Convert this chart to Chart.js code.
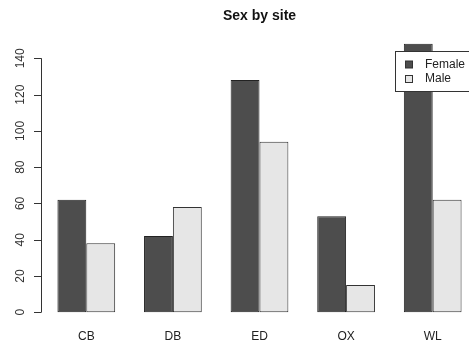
<!DOCTYPE html>
<html>
<head>
<meta charset="utf-8">
<title>Sex by site</title>
<script src="https://cdn.jsdelivr.net/npm/chart.js@4/dist/chart.umd.min.js"></script>
<style>
  html, body { margin: 0; padding: 0; background: #fff; overflow: hidden; }
  #wrap { width: 490px; height: 347px; }
</style>
</head>
<body>
<div id="wrap"><canvas id="c" width="490" height="347"></canvas></div>
<script>
// Counts by site and sex
const sites = ['CB', 'DB', 'ED', 'OX', 'WL'];
const female = [62, 42, 128, 53, 148];
const male = [38, 58, 94, 15, 62];
const yTicks = [0, 20, 40, 60, 80, 100, 120, 140];
const seriesNames = ['Female', 'Male'];
const seriesColors = ['#4d4d4d', '#e6e6e6'];

const FONT = '"Liberation Sans", Arial, Helvetica, sans-serif';
const yMax = Math.max(...female, ...male);
const yPad = yMax * 0.04;

// y axis drawn base-graphics style: line spanning only the tick range,
// outward ticks and labels running parallel to the axis
const baseAxis = {
  id: 'baseAxis',
  afterDraw(chart) {
    const ctx = chart.ctx;
    const y = chart.scales.y;
    const area = chart.chartArea;
    const unit = (area.right - area.left) / 15;
    const ax = area.left - 0.06 * unit;
    ctx.save();
    ctx.strokeStyle = '#333';
    ctx.lineWidth = 1;
    ctx.beginPath();
    ctx.moveTo(Math.round(ax) + 0.5, y.getPixelForValue(yTicks[0]));
    ctx.lineTo(Math.round(ax) + 0.5, y.getPixelForValue(yTicks[yTicks.length - 1]));
    yTicks.forEach(v => {
      const py = Math.round(y.getPixelForValue(v)) + 0.5;
      ctx.moveTo(Math.round(ax) + 0.5, py);
      ctx.lineTo(Math.round(ax) - 7, py);
    });
    ctx.stroke();
    ctx.fillStyle = '#333';
    ctx.font = '12px ' + FONT;
    ctx.textAlign = 'center';
    ctx.textBaseline = 'middle';
    yTicks.forEach(v => {
      ctx.save();
      ctx.translate(21, y.getPixelForValue(v));
      ctx.rotate(-Math.PI / 2);
      ctx.fillText(String(v), 0, 0);
      ctx.restore();
    });
    ctx.restore();
  }
};

// boxed legend in the top-right corner, drawn over the bars
const boxLegend = {
  id: 'boxLegend',
  afterDraw(chart) {
    const ctx = chart.ctx;
    ctx.save();
    const bx = 395.5, by = 51.5, bw = 84, bh = 40;
    ctx.fillStyle = '#fff';
    ctx.fillRect(bx, by, bw, bh);
    ctx.strokeStyle = '#333';
    ctx.lineWidth = 1;
    ctx.strokeRect(bx, by, bw, bh);
    ctx.font = '12px ' + FONT;
    ctx.textAlign = 'left';
    ctx.textBaseline = 'middle';
    seriesNames.forEach((name, i) => {
      const cy = 64.5 + i * 14.5;
      ctx.fillStyle = seriesColors[i];
      ctx.fillRect(405.5, cy - 3.5, 7, 7);
      ctx.strokeStyle = '#333';
      ctx.strokeRect(405.5, cy - 3.5, 7, 7);
      ctx.fillStyle = '#222';
      ctx.fillText(name, 425, cy);
    });
    ctx.restore();
  }
};

new Chart(document.getElementById('c'), {
  type: 'bar',
  data: {
    labels: sites,
    datasets: [
      { label: seriesNames[0], data: female, backgroundColor: seriesColors[0],
        borderColor: '#222', borderWidth: 1, borderSkipped: false },
      { label: seriesNames[1], data: male, backgroundColor: seriesColors[1],
        borderColor: '#333', borderWidth: 1, borderSkipped: false }
    ]
  },
  options: {
    responsive: false,
    animation: false,
    devicePixelRatio: 1,
    categoryPercentage: 2 / 3,
    barPercentage: 1,
    layout: { padding: { left: 43, right: 14, top: 0, bottom: 0 } },
    plugins: {
      legend: { display: false },
      tooltip: { enabled: false },
      title: {
        display: true,
        text: 'Sex by site',
        color: '#111',
        font: { family: FONT, size: 14, weight: 'bold', lineHeight: 1.2 },
        padding: { top: 7.6, bottom: 8.7 }
      }
    },
    scales: {
      x: {
        grid: { display: false, drawTicks: false },
        border: { display: false },
        ticks: { color: '#222', font: { family: FONT, size: 12 }, padding: 6 },
        afterFit(scale) { scale.height = 24; }
      },
      y: {
        display: false,
        min: -yPad,
        max: yMax + yPad
      }
    }
  },
  plugins: [baseAxis, boxLegend]
});
</script>
</body>
</html>
